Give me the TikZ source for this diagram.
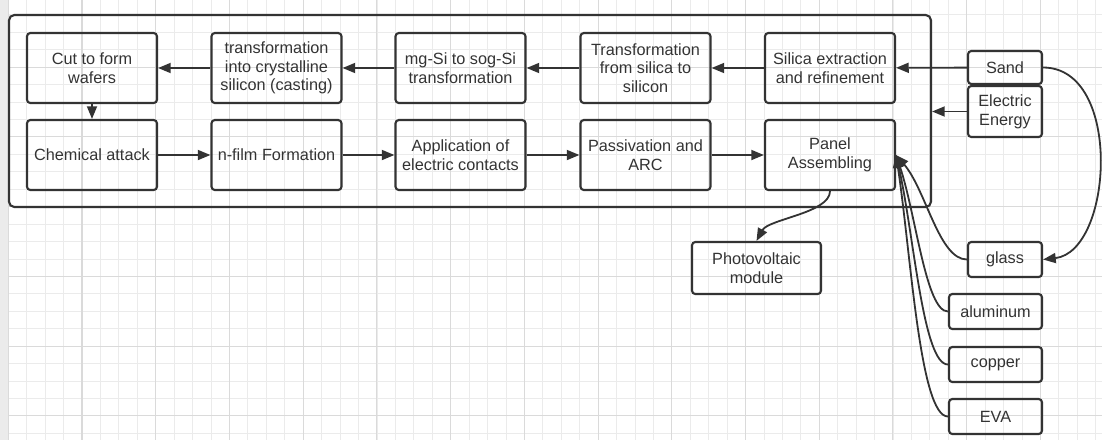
\documentclass[tikz,border=0pt]{standalone}
\usepackage{fontspec}
\setmainfont{Liberation Sans}
\usetikzlibrary{arrows.meta}
\definecolor{ink}{HTML}{333333}
\definecolor{gridminor}{HTML}{EBEBEB}
\definecolor{gridmajor}{HTML}{DADADA}
\tikzstyle{box}=[draw=ink,line width=1.6pt,rounded corners=2.5pt,align=center,text=ink,inner sep=1pt,font=\fontsize{12.2}{14}\selectfont]
\tikzstyle{stage}=[box,minimum width=97.5pt,minimum height=52.5pt]
\tikzstyle{input}=[box,minimum height=26.25pt]
\tikzstyle{flow}=[draw=ink,line width=1.35pt,-{Triangle[length=9.5pt,width=7.5pt]}]

\begin{document}
\begin{tikzpicture}[x=0.75pt,y=-0.75pt]
\useasboundingbox (0,0) rectangle (1102,440);
\fill[black!8] (0,0) rectangle (8,440);
\foreach \i in {0,...,59}
  \draw[gridminor,line width=0.6pt] (8.3+\i*18.43,0) -- ++(0,440);
\foreach \j in {0,...,25}
  \draw[gridminor,line width=0.6pt] (8,-2.7+\j*17.44) -- (1102,-2.7+\j*17.44);
\foreach \i in {0,...,14}
  \draw[gridmajor,line width=0.8pt] (8.3+\i*73.72,0) -- ++(0,440);
\foreach \j in {1,...,6}
  \draw[gridmajor,line width=0.8pt] (8,-2.7+\j*69.76) -- (1102,-2.7+\j*69.76);

\node[box,rounded corners=4pt,minimum width=691.5pt,minimum height=144pt] (plant) at (470,111) {};

\node[stage] (cut)      at (92,68)    {Cut to form\\wafers};
\node[stage] (cast)     at (276.5,68) {transformation\\into crystalline\\silicon (casting)};
\node[stage] (mgsi)     at (460.5,68) {mg-Si to sog-Si\\transformation};
\node[stage] (silicon)  at (645.5,68) {Transformation\\from silica to\\silicon};
\node[stage] (silica)   at (830,68)   {Silica extraction\\and refinement};
\node[stage] (chem)     at (92,155)   {Chemical attack};
\node[stage] (nfilm)    at (276.5,155) {n-film Formation};
\node[stage] (contacts) at (460.5,155) {Application of\\electric contacts};
\node[stage] (arc)      at (645.5,155) {Passivation and\\ARC};
\node[stage] (panel)    at (830,155)  {Panel\\Assembling};

\node[box,minimum width=55.5pt,minimum height=24.75pt] (sand) at (1005,67.5) {Sand};
\node[box,minimum width=55.5pt,minimum height=38.25pt] (energy) at (1005,111.5) {Electric\\Energy};
\node[input,minimum width=55.5pt]  (glass)  at (1005,259.5)  {glass};
\node[input,minimum width=69.75pt] (alu)    at (995.5,311.5) {aluminum};
\node[input,minimum width=69.75pt] (copper) at (995.5,364.5) {copper};
\node[input,minimum width=69.75pt] (eva)    at (995.5,416.5) {EVA};
\node[box,minimum width=96.75pt,minimum height=39pt] (pv) at (756.5,268) {Photovoltaic\\module};

\draw[flow] (sand) -- (silica);
\draw[flow] (silica) -- (silicon);
\draw[flow] (silicon) -- (mgsi);
\draw[flow] (mgsi) -- (cast);
\draw[flow] (cast) -- (cut);
\draw[flow] (cut) -- (chem);
\draw[flow] (chem) -- (nfilm);
\draw[flow] (nfilm) -- (contacts);
\draw[flow] (contacts) -- (arc);
\draw[flow] (arc) -- (panel);
\draw[flow] (energy.west) -- (energy.west -| plant.east);
\draw[flow] (sand.east) .. controls +(80,0) and +(70,-8) .. (glass.east);
\draw[flow] (glass.west) .. controls +(-28,0) and +(30,35) .. (panel.east);
\draw[flow] (alu.west) .. controls +(-22,0) and +(20,60) .. (panel.east);
\draw[flow] (copper.west) .. controls +(-25,0) and +(18,80) .. (panel.east);
\draw[flow] (eva.west) .. controls +(-28,0) and +(15,100) .. (panel.east);
\draw[flow] (panel.south) .. controls +(0,22) and +(12,-22) .. (pv.north);
\end{tikzpicture}
\end{document}
